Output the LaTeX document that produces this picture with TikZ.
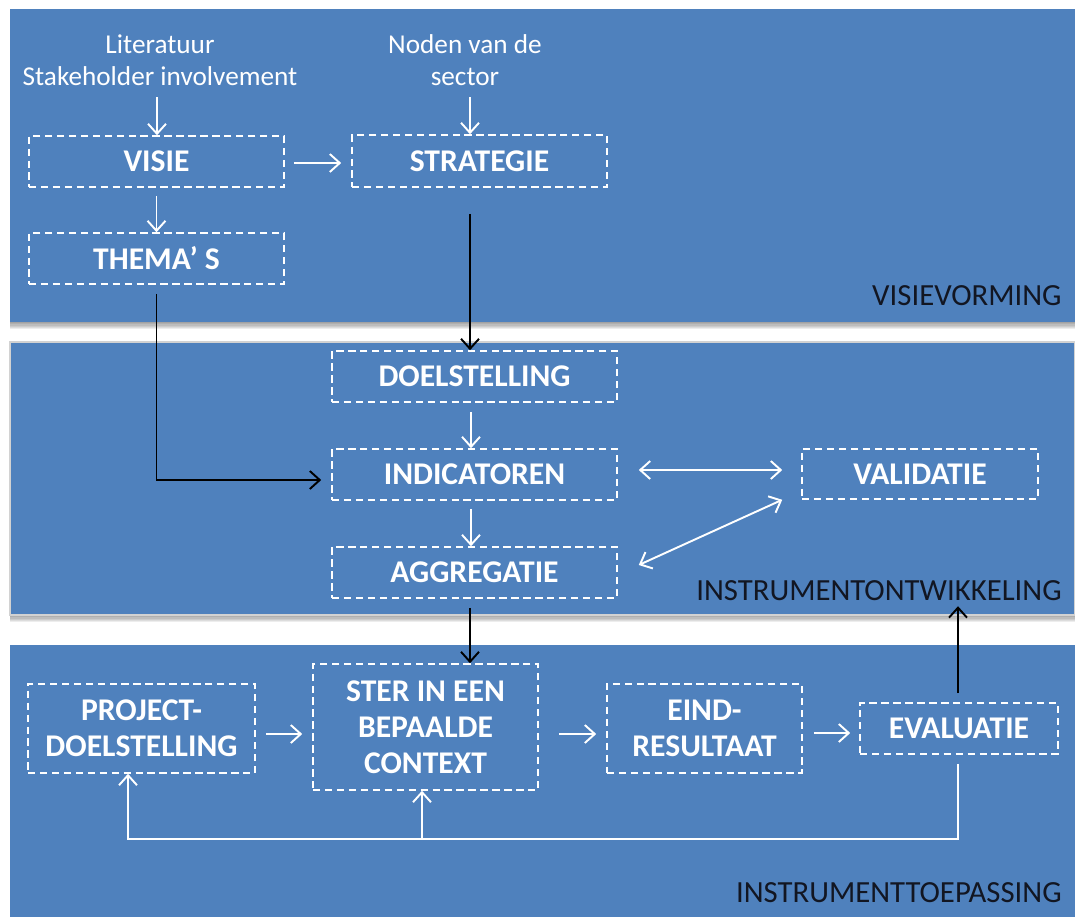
\documentclass[tikz,border=0pt]{standalone}
\usepackage{fontspec}
\setmainfont{Carlito}
\usetikzlibrary{arrows.meta,calc}

\definecolor{bandblue}{RGB}{79,129,189}
\definecolor{labelink}{RGB}{18,22,34}

\tikzset{
  x=0.02cm, y=-0.02cm,
  band/.style={fill=bandblue, draw=none},
  stepbox/.style={draw=white, line width=0.9pt, dash pattern=on 4.2pt off 2.6pt,
    text=white, font=\fontsize{18}{20.5}\selectfont\bfseries, align=center, inner sep=0pt},
  srctext/.style={text=white, font=\fontsize{15.5}{18.2}\selectfont, align=center, inner sep=0pt},
  phase/.style={text=labelink, font=\fontsize{17.5}{20}\selectfont, inner sep=0pt, anchor=base east},
  warrow/.style={draw=white, line width=1.1pt, -{Straight Barb[length=0.2cm, width=0.36cm, line width=1.1pt]}},
  wdouble/.style={draw=white, line width=1.1pt, {Straight Barb[length=0.2cm, width=0.36cm, line width=1.1pt]}-{Straight Barb[length=0.2cm, width=0.36cm, line width=1.1pt]}},
  barrow/.style={draw=black, line width=1.1pt, -{Straight Barb[length=0.2cm, width=0.36cm, line width=1.1pt]}},
}

\newcommand{\softshadow}[4]{%
  \foreach \k in {1,...,6}{
    \fill[black, opacity=0.07] (#1,#2) rectangle (#3,#4+\k*1.2);
  }}

\begin{document}
\begin{tikzpicture}
\useasboundingbox (0,0) rectangle (1075,917);
\fill[white] (0,0) rectangle (1075,917);

% phase bands with soft shadows
\softshadow{10}{9}{1075}{322}
\fill[band] (10,9) rectangle (1075,322);
\softshadow{10}{342}{1075}{615}
\fill[band] (10,342) rectangle (1075,615);
\draw[gray!35, line width=0.8pt] (10,342) rectangle (1075,615);
\fill[band] (10,645) rectangle (1075,917);

% phase labels
\node[phase] (lblvisie) at (1062,305) {VISIEVORMING};
\node[phase] (lblontw) at (1062,600) {INSTRUMENTONTWIKKELING};
\node[phase] (lbltoep) at (1062,902) {INSTRUMENTTOEPASSING};

% sources
\node[srctext, anchor=north] (lit) at (160,34) {Literatuur\\Stakeholder involvement};
\node[srctext, anchor=north] (noden) at (465,34) {Noden van de\\sector};

% steps
\node[stepbox, minimum width=5.1cm, minimum height=1.02cm] (visie) at (156.5,161.5) {VISIE};
\node[stepbox, minimum width=5.1cm, minimum height=1.02cm] (themas) at (156.5,258.5) {THEMA’ S};
\node[stepbox, minimum width=5.1cm, minimum height=1.04cm] (strategie) at (479.5,161) {STRATEGIE};
\node[stepbox, minimum width=5.7cm, minimum height=1.02cm] (doel) at (474.5,376.5) {DOELSTELLING};
\node[stepbox, minimum width=5.7cm, minimum height=1.02cm] (indic) at (474.5,474.5) {INDICATOREN};
\node[stepbox, minimum width=5.7cm, minimum height=1.02cm] (aggr) at (474.5,572.5) {AGGREGATIE};
\node[stepbox, minimum width=4.72cm, minimum height=1.0cm] (valid) at (920,474) {VALIDATIE};
\node[stepbox, minimum width=4.54cm, minimum height=1.78cm] (project) at (141.5,728.5) {PROJECT-\\DOELSTELLING};
\node[stepbox, minimum width=4.5cm, minimum height=2.52cm] (ster) at (425.5,727) {STER IN EEN\\BEPAALDE\\CONTEXT};
\node[stepbox, minimum width=3.9cm, minimum height=1.78cm] (eind) at (704.5,728.5) {EIND-\\RESULTAAT};
\node[stepbox, minimum width=3.96cm, minimum height=1.02cm] (eval) at (959,728.5) {EVALUATIE};

% vision phase
\coordinate (litfoot) at (157,97);
\draw[warrow] (litfoot) -- (litfoot |- visie.north);
\coordinate (nodenfoot) at (470,97);
\draw[warrow] (nodenfoot) -- (nodenfoot |- strategie.north);
\draw[warrow] ($(visie.south)+(0,8)$) -- (visie.north |- themas.north);
\coordinate (vs) at ($(visie.east)+(9,1.5)$);
\draw[warrow, shorten >=0.2cm] (vs) -- (vs -| strategie.west);

% links into instrument development
\coordinate (strfoot) at ($(strategie.south)+(-9.5,26)$);
\draw[barrow] (strfoot) -- (strfoot |- doel.north);
\draw[barrow] ($(themas.south)+(0,9)$) |- ($(indic.west)+(-10,5.5)$);

% instrument development
\coordinate (di) at ($(doel.south)+(-3.5,9)$);
\draw[warrow] (di) -- (di |- indic.north);
\coordinate (ia) at ($(indic.south)+(-3.5,8)$);
\draw[warrow] (ia) -- (ia |- aggr.north);
\draw[wdouble] ($(indic.east)+(21,-4.5)$) -- ($(valid.west)+(-19,-4)$);
\draw[wdouble] ($(aggr.east)+(21,-7.5)$) -- ($(valid.south west)+(-19,0)$);

% into application
\coordinate (as) at ($(aggr.south)+(-4.5,9)$);
\draw[barrow] (as) -- (as |- ster.north);

% application chain
\coordinate (p1) at ($(project.east)+(10,5.5)$);
\draw[warrow, shorten >=0.2cm] (p1) -- (p1 -| ster.west);
\coordinate (p2) at ($(ster.east)+(20,7)$);
\draw[warrow, shorten >=0.2cm] (p2) -- (p2 -| eind.west);
\coordinate (p3) at ($(eind.east)+(11,4.5)$);
\draw[warrow, shorten >=0.18cm] (p3) -- (p3 -| eval.west);

% evaluation feeds back
\coordinate (evtop) at ($(eval.north)+(-1,-96)$);
\draw[barrow] ($(eval.north)+(-1,-9)$) -- (evtop);
\coordinate (fb) at ($(eval.south)+(-1,84.5)$);
\draw[warrow] ($(eval.south)+(-1,9)$) -- (fb) -| ($(project.south)+(-13.5,0)$);
\coordinate (sb) at ($(ster.south)+(-3.5,0)$);
\draw[warrow] (sb |- fb) -- (sb);
\end{tikzpicture}
\end{document}
